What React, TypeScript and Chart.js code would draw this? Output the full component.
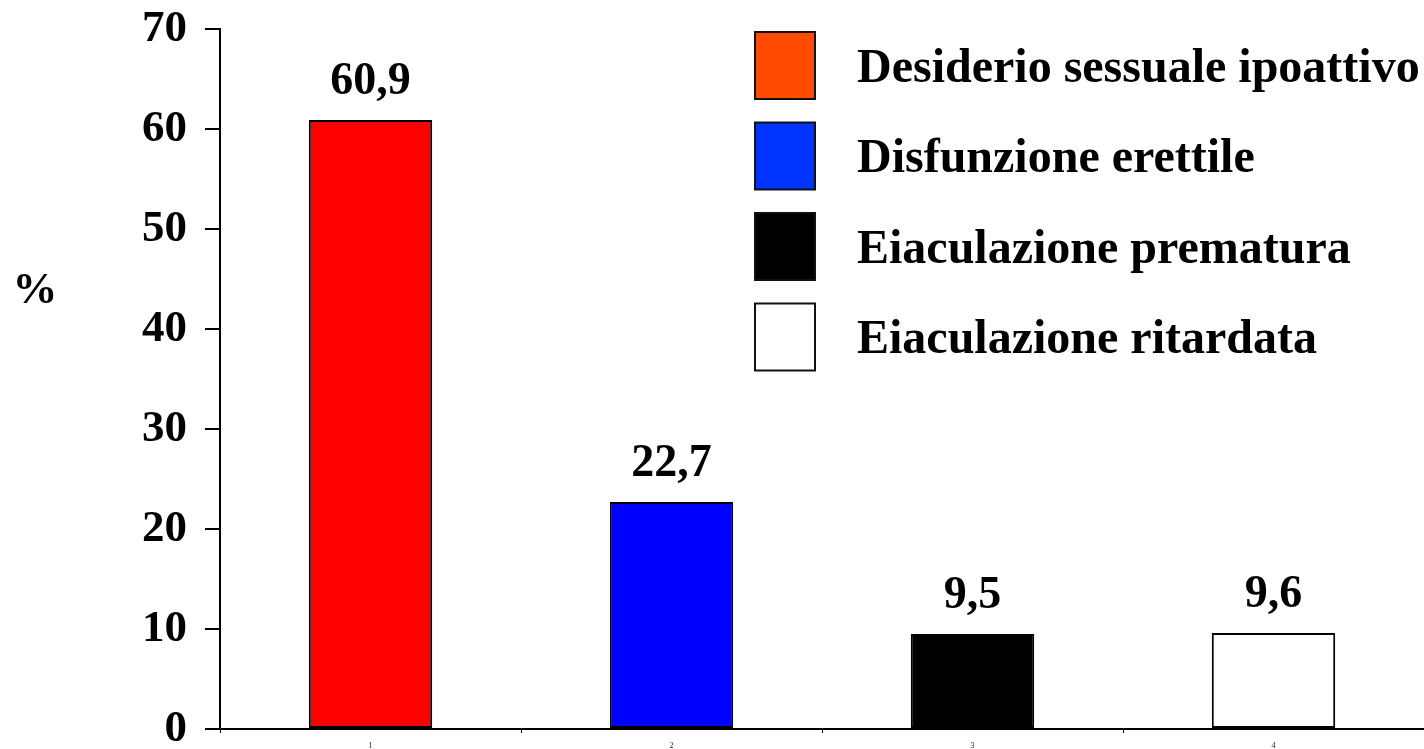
import React, { useEffect, useRef } from "react";
import { Chart, registerables } from "chart.js";

Chart.register(...registerables);

// Prevalence of male sexual dysfunctions (%)
const categories = ["1", "2", "3", "4"];
const values = [60.9, 22.7, 9.5, 9.6];
const barColors = ["#ff0000", "#0000ff", "#000000", "#ffffff"];

const legendLabels = [
  "Desiderio sessuale ipoattivo",
  "Disfunzione erettile",
  "Eiaculazione prematura",
  "Eiaculazione ritardata",
];
const legendColors = ["#ff4a00", "#0033ff", "#000000", "#ffffff"];

const yMin = 0;
const yMax = 70;
const yStep = 10;
const yUnit = "%";

const SERIF = "'Liberation Serif', 'Times New Roman', serif";

const formatValue = (v: number) => v.toFixed(1).replace(".", ",");

// Writes the value above each bar
const valueLabels = {
  id: "valueLabels",
  afterDatasetsDraw(chart: any) {
    const ctx = chart.ctx;
    const meta = chart.getDatasetMeta(0);
    ctx.save();
    ctx.fillStyle = "#000";
    ctx.font = `bold 46px ${SERIF}`;
    ctx.textAlign = "center";
    ctx.textBaseline = "alphabetic";
    meta.data.forEach((bar: any, i: number) => {
      ctx.fillText(formatValue(values[i]), bar.x, bar.y - 26);
    });
    ctx.restore();
  },
};

// Legend with coloured boxes placed inside the plot, plus the unit label
const sideDecor = {
  id: "sideDecor",
  afterDraw(chart: any) {
    const ctx = chart.ctx;
    ctx.save();
    const boxX = 755;
    const boxW = 60;
    const boxH = 67;
    const top0 = 32;
    const gap = 90.5;
    legendLabels.forEach((label, i) => {
      const y = top0 + i * gap;
      ctx.fillStyle = legendColors[i];
      ctx.fillRect(boxX, y, boxW, boxH);
      ctx.lineWidth = 2;
      ctx.strokeStyle = "#111";
      ctx.strokeRect(boxX, y, boxW, boxH);
      ctx.fillStyle = "#000";
      ctx.font = `bold 48px ${SERIF}`;
      ctx.textAlign = "left";
      ctx.textBaseline = "alphabetic";
      ctx.fillText(label, 857, y + boxH / 2 + 16);
    });
    ctx.font = `bold 45px ${SERIF}`;
    ctx.textAlign = "center";
    ctx.fillText(yUnit, 35, 303);
    ctx.restore();
  },
};

export default function App() {
  const canvasRef = useRef<HTMLCanvasElement | null>(null);

  useEffect(() => {
    if (!canvasRef.current) return;
    const chart = new Chart(canvasRef.current, {
      type: "bar",
      data: {
        labels: categories,
        datasets: [
          {
            data: values,
            backgroundColor: barColors,
            borderColor: "#000",
            borderWidth: 2,
            borderSkipped: false,
            categoryPercentage: 1,
            barPercentage: 0.41,
          },
        ],
      },
      options: {
        animation: false,
        responsive: false,
        devicePixelRatio: 1,
        layout: { padding: { top: 29, left: 0, right: 0, bottom: 0 } },
        plugins: {
          legend: { display: false },
          tooltip: { enabled: false },
        },
        scales: {
          x: {
            offset: true,
            afterFit: (scale: any) => {
              scale.height = 20;
              scale.paddingLeft = 0;
              scale.paddingRight = 0;
            },
            grid: {
              display: true,
              drawOnChartArea: false,
              drawTicks: true,
              tickLength: 4,
              color: "#000",
              lineWidth: 1,
            },
            border: { display: true, color: "#000", width: 2 },
            ticks: {
              color: "#222",
              font: { size: 8, family: SERIF },
              padding: 8,
              maxRotation: 0,
            },
          },
          y: {
            min: yMin,
            max: yMax,
            afterFit: (scale: any) => {
              scale.width = 220;
              scale.paddingTop = 0;
              scale.paddingBottom = 0;
            },
            grid: {
              display: true,
              drawOnChartArea: false,
              drawTicks: true,
              tickLength: 15,
              color: "#000",
              lineWidth: 2,
            },
            border: { display: true, color: "#000", width: 2 },
            ticks: {
              stepSize: yStep,
              color: "#000",
              padding: 18,
              font: { size: 45, weight: "bold", family: SERIF },
            },
          },
        },
      },
      plugins: [valueLabels, sideDecor],
    });
    return () => chart.destroy();
  }, []);

  return (
    <div style={{ position: "absolute", left: 0, top: 0, width: 1424, height: 749, background: "#fff" }}>
      <canvas ref={canvasRef} width={1424} height={749} style={{ display: "block" }} />
    </div>
  );
}
